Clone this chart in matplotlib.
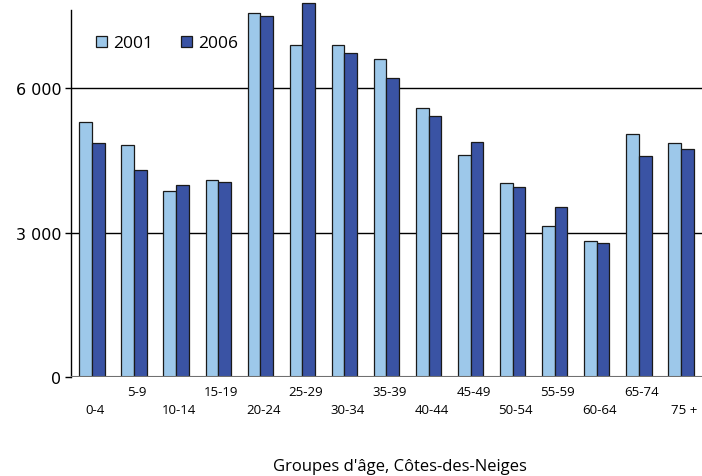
import numpy as np
import matplotlib.pyplot as plt

# Population par groupe d'âge, Côtes-des-Neiges
groupes = ['0-4', '5-9', '10-14', '15-19', '20-24', '25-29', '30-34', '35-39',
           '40-44', '45-49', '50-54', '55-59', '60-64', '65-74', '75 +']
pop_2001 = [5290, 4820, 3860, 4100, 7560, 6890, 6890, 6610,
            5580, 4620, 4020, 3140, 2830, 5050, 4850]
pop_2006 = [4860, 4300, 3980, 4060, 7490, 7760, 6730, 6210,
            5410, 4890, 3940, 3540, 2790, 4580, 4730]

plt.rcParams['font.family'] = ['Open Sans', 'DejaVu Sans']

fig = plt.figure(figsize=(7.02, 4.77), dpi=100)
ax = fig.add_axes([0.101, 0.2075, 0.899, 0.7925])

x = np.arange(len(groupes))
w = 0.3
ax.bar(x - w / 2, pop_2001, w, color='#9DC8EA', edgecolor='#1a1a1a', linewidth=0.9,
       label='2001', zorder=3)
ax.bar(x + w / 2, pop_2006, w, color='#3A53A4', edgecolor='#1a1a1a', linewidth=0.9,
       label='2006', zorder=3)

ax.set_xlim(-0.5, len(groupes) - 0.5)
ax.set_ylim(0, 7850)

ax.set_yticks([0, 3000, 6000])
ax.set_yticklabels(['0', '3 000', '6 000'], fontsize=11.5, family='DejaVu Sans')
ax.yaxis.grid(True, color='black', linewidth=1)
ax.set_axisbelow(True)
ax.axhline(0, color='#707070', linewidth=1.5, zorder=4)

# étiquettes en deux rangées
labels = [g if i % 2 == 1 else '\n' + g for i, g in enumerate(groupes)]
ax.set_xticks(x + 0.07)
ax.set_xticklabels(labels, fontsize=9.5, linespacing=1.45)
ax.tick_params(axis='x', length=0, pad=6)
ax.tick_params(axis='y', length=4, width=1, pad=3)

for s in ['top', 'right', 'bottom']:
    ax.spines[s].set_visible(False)
ax.spines['left'].set_bounds(0, 7620)
ax.spines['left'].set_linewidth(1)

ax.legend(loc='upper left', bbox_to_anchor=(0.015, 0.945), ncol=2, frameon=False,
          fontsize=12.5, handlelength=0.65, handleheight=0.65, handletextpad=0.35,
          columnspacing=1.6)

fig.text(0.57, 0.012, "Groupes d'âge, Côtes-des-Neiges", ha='center', fontsize=12)

plt.savefig('out.png', dpi=100)
